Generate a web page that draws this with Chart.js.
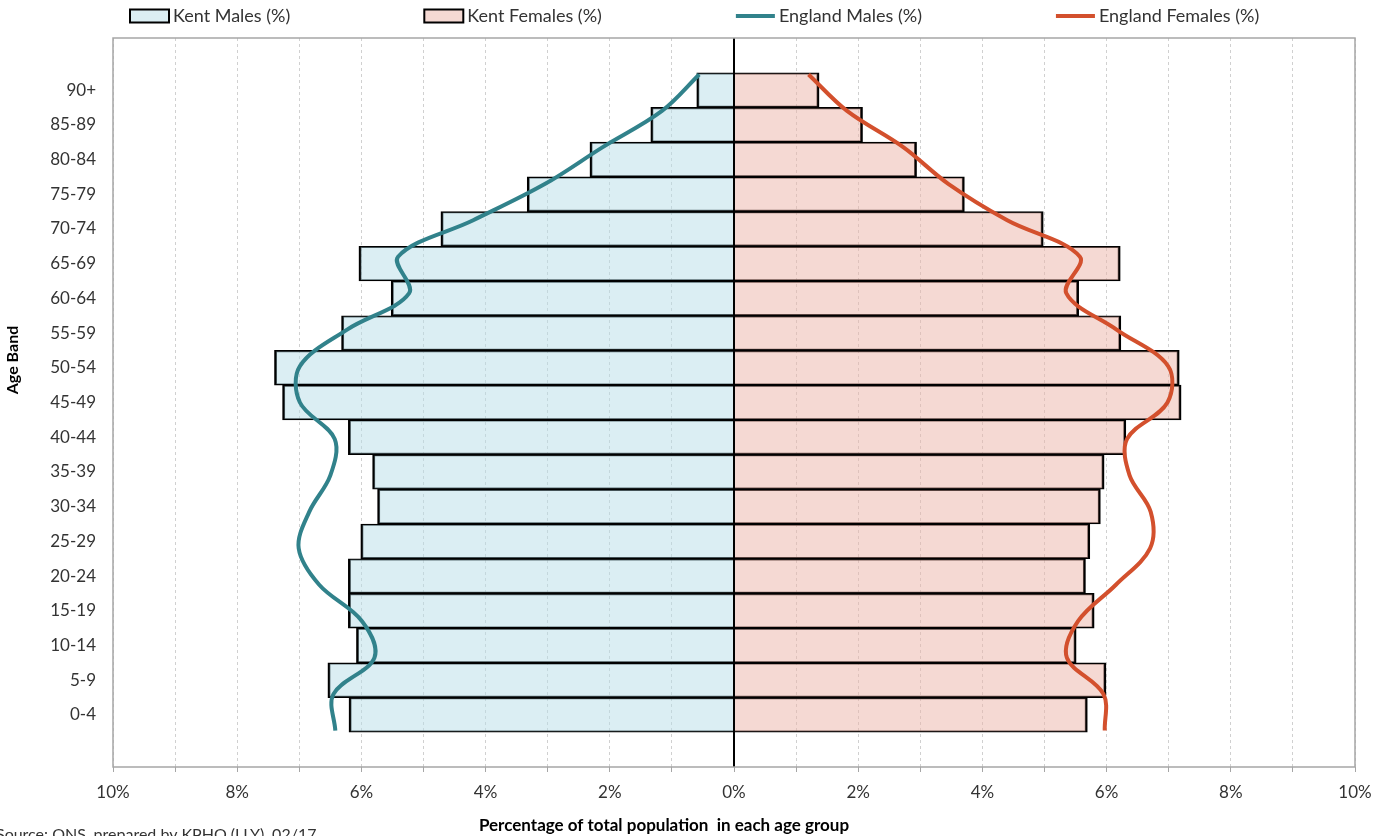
<!DOCTYPE html>
<html>
<head>
<meta charset="utf-8">
<script src="https://cdn.jsdelivr.net/npm/chart.js@4.4.1/dist/chart.umd.min.js"></script>
<style>
  html, body { margin: 0; padding: 0; background: #ffffff; }
  #wrap { width: 1373px; height: 836px; position: relative; }
</style>
</head>
<body>
<div id="wrap"><canvas id="c"></canvas></div>
<script>
// ---- Data (ordered youngest to oldest) ----
const ageBands = ['0-4','5-9','10-14','15-19','20-24','25-29','30-34','35-39','40-44','45-49',
                  '50-54','55-59','60-64','65-69','70-74','75-79','80-84','85-89','90+'];
const kentMales      = [6.20, 6.54, 6.08, 6.21, 6.21, 6.01, 5.74, 5.82, 6.21, 7.27,
                        7.40, 6.32, 5.52, 6.04, 4.72, 3.33, 2.32, 1.34, 0.60];
const kentFemales    = [5.69, 5.99, 5.51, 5.80, 5.66, 5.73, 5.90, 5.96, 6.31, 7.20,
                        7.17, 6.23, 5.55, 6.22, 4.98, 3.71, 2.94, 2.07, 1.37];
const englandMales   = [6.42, 6.45, 5.79, 5.99, 6.68, 7.01, 6.84, 6.50, 6.43, 6.99,
                        6.99, 6.23, 5.23, 5.41, 4.20, 3.04, 2.12, 1.16, 0.56];
const englandFemales = [5.97, 5.95, 5.36, 5.54, 6.15, 6.70, 6.71, 6.37, 6.33, 6.98,
                        6.99, 6.16, 5.35, 5.57, 4.40, 3.45, 2.73, 1.82, 1.20];
const seriesNames = ['Kent Males (%)', 'Kent Females (%)', 'England Males (%)', 'England Females (%)'];
const xTitle = 'Percentage of total population  in each age group';
const yTitle = 'Age Band';
const sourceNote = 'Source: ONS, prepared by KPHO (LLY), 02/17';

const FONT = 'Lato, "Open Sans", sans-serif';
const TEXT = '#333333';

// category labels with an empty band above and below
const labels = ['', ...ageBands, ''];
const padded = arr => [null, ...arr, null];

const decorations = {
  id: 'decorations',
  afterDatasetsDraw(chart) {
    const { ctx, chartArea: a, scales } = chart;
    const x0 = scales.x.getPixelForValue(0);
    ctx.save();
    ctx.strokeStyle = '#000000';
    ctx.lineWidth = 2;
    ctx.beginPath();
    ctx.moveTo(x0, a.top);
    ctx.lineTo(x0, a.bottom);
    ctx.stroke();
    ctx.strokeStyle = '#a6a6a6';
    ctx.lineWidth = 1.5;
    ctx.strokeRect(a.left, a.top, a.right - a.left, a.bottom - a.top);
    ctx.restore();
  },
  afterDraw(chart) {
    const ctx = chart.ctx;
    ctx.save();
    // legend
    ctx.font = '18px ' + FONT;
    ctx.textBaseline = 'middle';
    ctx.textAlign = 'left';
    let x = 130;
    const y = 16;
    chart.data.datasets.forEach(ds => {
      if (ds.type === 'line') {
        ctx.strokeStyle = ds.borderColor;
        ctx.lineWidth = 4;
        ctx.beginPath();
        ctx.moveTo(x, y);
        ctx.lineTo(x + 39, y);
        ctx.stroke();
      } else {
        ctx.fillStyle = ds.backgroundColor;
        ctx.fillRect(x, y - 6.5, 39, 13);
        ctx.strokeStyle = '#000000';
        ctx.lineWidth = 2;
        ctx.strokeRect(x, y - 6.5, 39, 13);
      }
      x += 43;
      ctx.fillStyle = TEXT;
      ctx.fillText(ds.label, x, y);
      x += ctx.measureText(ds.label).width + 134;
    });
    // x title
    ctx.font = 'bold 17px ' + FONT;
    ctx.textAlign = 'center';
    ctx.fillStyle = '#000000';
    ctx.fillText(xTitle, 664, 826);
    // y title
    ctx.save();
    ctx.translate(13, 360);
    ctx.rotate(-Math.PI / 2);
    ctx.font = 'bold 16px ' + FONT;
    ctx.fillText(yTitle, 0, 0);
    ctx.restore();
    // source
    ctx.font = '16px ' + FONT;
    ctx.textAlign = 'left';
    ctx.textBaseline = 'top';
    ctx.fillStyle = TEXT;
    ctx.fillText(sourceNote, -4, 827);
    ctx.restore();
  }
};

const barBorder = { top: 1.4, bottom: 1.4, left: 2.2, right: 2.2 };

new Chart(document.getElementById('c'), {
  type: 'bar',
  data: {
    labels: labels,
    datasets: [
      {
        label: seriesNames[0],
        data: padded(kentMales.map(v => -v)),
        backgroundColor: 'rgba(183, 222, 232, 0.5)',
        borderColor: '#000000',
        borderWidth: barBorder,
        borderSkipped: 'start',
        grouped: false,
        categoryPercentage: 1,
        barPercentage: 1,
        xAxisID: 'x', yAxisID: 'y',
        order: 2
      },
      {
        label: seriesNames[1],
        data: padded(kentFemales),
        backgroundColor: 'rgba(235, 180, 168, 0.5)',
        borderColor: '#000000',
        borderWidth: barBorder,
        borderSkipped: 'start',
        grouped: false,
        categoryPercentage: 1,
        barPercentage: 1,
        xAxisID: 'x', yAxisID: 'y',
        order: 2
      },
      {
        type: 'line',
        label: seriesNames[2],
        indexAxis: 'y',
        data: englandMales.map((v, i) => ({ x: -v, y: i + 1 })),
        borderColor: '#31828b',
        borderWidth: 4,
        pointRadius: 0,
        fill: false,
        tension: 0.35,
        xAxisID: 'x', yAxisID: 'y2',
        order: 1
      },
      {
        type: 'line',
        label: seriesNames[3],
        indexAxis: 'y',
        data: englandFemales.map((v, i) => ({ x: v, y: i + 1 })),
        borderColor: '#d3502d',
        borderWidth: 4,
        pointRadius: 0,
        fill: false,
        tension: 0.35,
        xAxisID: 'x', yAxisID: 'y2',
        order: 1
      }
    ]
  },
  options: {
    indexAxis: 'y',
    responsive: true,
    maintainAspectRatio: false,
    animation: false,
    events: [],
    layout: { padding: { top: 38, right: 18, left: 0, bottom: 0 } },
    plugins: {
      legend: { display: false },
      tooltip: { enabled: false },
      title: { display: false }
    },
    scales: {
      x: {
        type: 'linear',
        min: -10,
        max: 10,
        offset: false,
        afterFit: s => { s.height = 69; s.paddingLeft = 0; s.paddingRight = 0; },
        grid: {
          color: '#d0d0d0',
          lineWidth: 1,
          drawTicks: true,
          tickLength: 5,
          tickColor: '#a6a6a6'
        },
        border: { display: false, dash: [3, 3] },
        ticks: {
          stepSize: 1,
          autoSkip: false,
          maxRotation: 0,
          padding: 10,
          color: TEXT,
          font: { family: FONT, size: 17 },
          callback: v => (Math.round(v) % 2 === 0 ? Math.abs(Math.round(v)) + '%' : '')
        }
      },
      y: {
        type: 'category',
        reverse: true,
        afterFit: s => { s.width = 113; s.paddingTop = 0; s.paddingBottom = 0; },
        grid: { display: false, drawTicks: false },
        border: { display: false },
        ticks: {
          padding: 17,
          autoSkip: false,
          color: TEXT,
          font: { family: FONT, size: 17 }
        }
      },
      y2: {
        type: 'linear',
        display: false,
        offset: false,
        grid: { offset: false },
        min: 0,
        max: 20
      }
    }
  },
  plugins: [decorations]
});
</script>
</body>
</html>
